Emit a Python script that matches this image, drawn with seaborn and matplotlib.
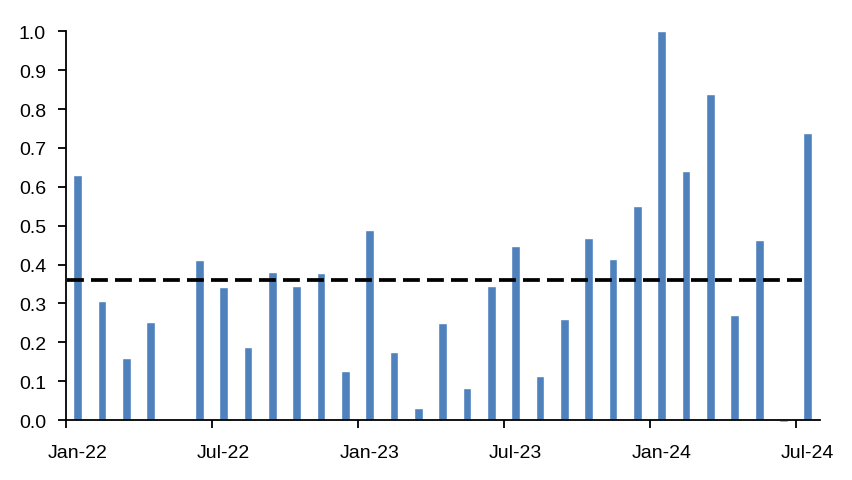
import numpy as np
import pandas as pd
import matplotlib.pyplot as plt
import seaborn as sns

sns.set_style("white")
plt.rcParams['font.family'] = ['Liberation Sans', 'DejaVu Sans']

# 월별 데이터 (Jan-22 ~ Jul-24)
months = pd.date_range('2022-01-01', '2024-07-01', freq='MS').strftime('%b-%y').tolist()
values = [0.63, 0.305, 0.16, 0.252, 0.0, 0.412,
          0.341, 0.188, 0.380, 0.344, 0.378, 0.125,
          0.49, 0.176, 0.030, 0.249, 0.082, 0.346,
          0.447, 0.113, 0.26, 0.468, 0.413, 0.55,
          1.0, 0.64, 0.84, 0.27, 0.463, -0.005,
          0.738]
avg_level = 0.36
tick_labels = ['Jan-22', 'Jul-22', 'Jan-23', 'Jul-23', 'Jan-24', 'Jul-24']

df = pd.DataFrame({'month': months, 'value': values})

fig = plt.figure(figsize=(8.52, 4.81), dpi=100)
ax = fig.add_axes([0.0769, 0.1247, 0.8855, 0.8081])

sns.barplot(data=df, x='month', y='value', order=months, color='#4F81BD',
            saturation=1, width=0.36, ax=ax)
for p in ax.patches:
    p.set_clip_on(False)

# 평균선
ax.hlines(avg_level, -0.45, 29.75, colors='black', linewidth=2.7,
          linestyles=(0, (4.5, 1.9)), zorder=5)

ax.set_xlim(-0.5, len(months) - 0.5)
ax.set_ylim(0, 1.0)
ax.set_yticks(np.arange(0, 1.01, 0.1))
ax.set_yticklabels([f'{v:.1f}' for v in np.arange(0, 1.01, 0.1)])

# 눈금: 월 시작 위치에 tick, 라벨은 월 중앙
label_pos = [months.index(m) for m in tick_labels]
ax.set_xticks([p - 0.5 for p in label_pos])
ax.set_xticklabels([])
ax.set_xticks(label_pos, minor=True)
ax.set_xticklabels(tick_labels, minor=True)
ax.tick_params(axis='x', which='major', direction='out', length=6, width=1.3,
               bottom=True, color='black')
ax.tick_params(axis='x', which='minor', length=0, pad=17, labelsize=14,
               labelcolor='black')
ax.tick_params(axis='y', direction='out', length=6, width=1.3, left=True,
               pad=8, labelsize=14, color='black', labelcolor='black')

for side in ['top', 'right']:
    ax.spines[side].set_visible(False)
for side in ['left', 'bottom']:
    ax.spines[side].set_color('black')
    ax.spines[side].set_linewidth(1.3)

ax.set_xlabel('')
ax.set_ylabel('')

fig.savefig('out.png', dpi=100)
